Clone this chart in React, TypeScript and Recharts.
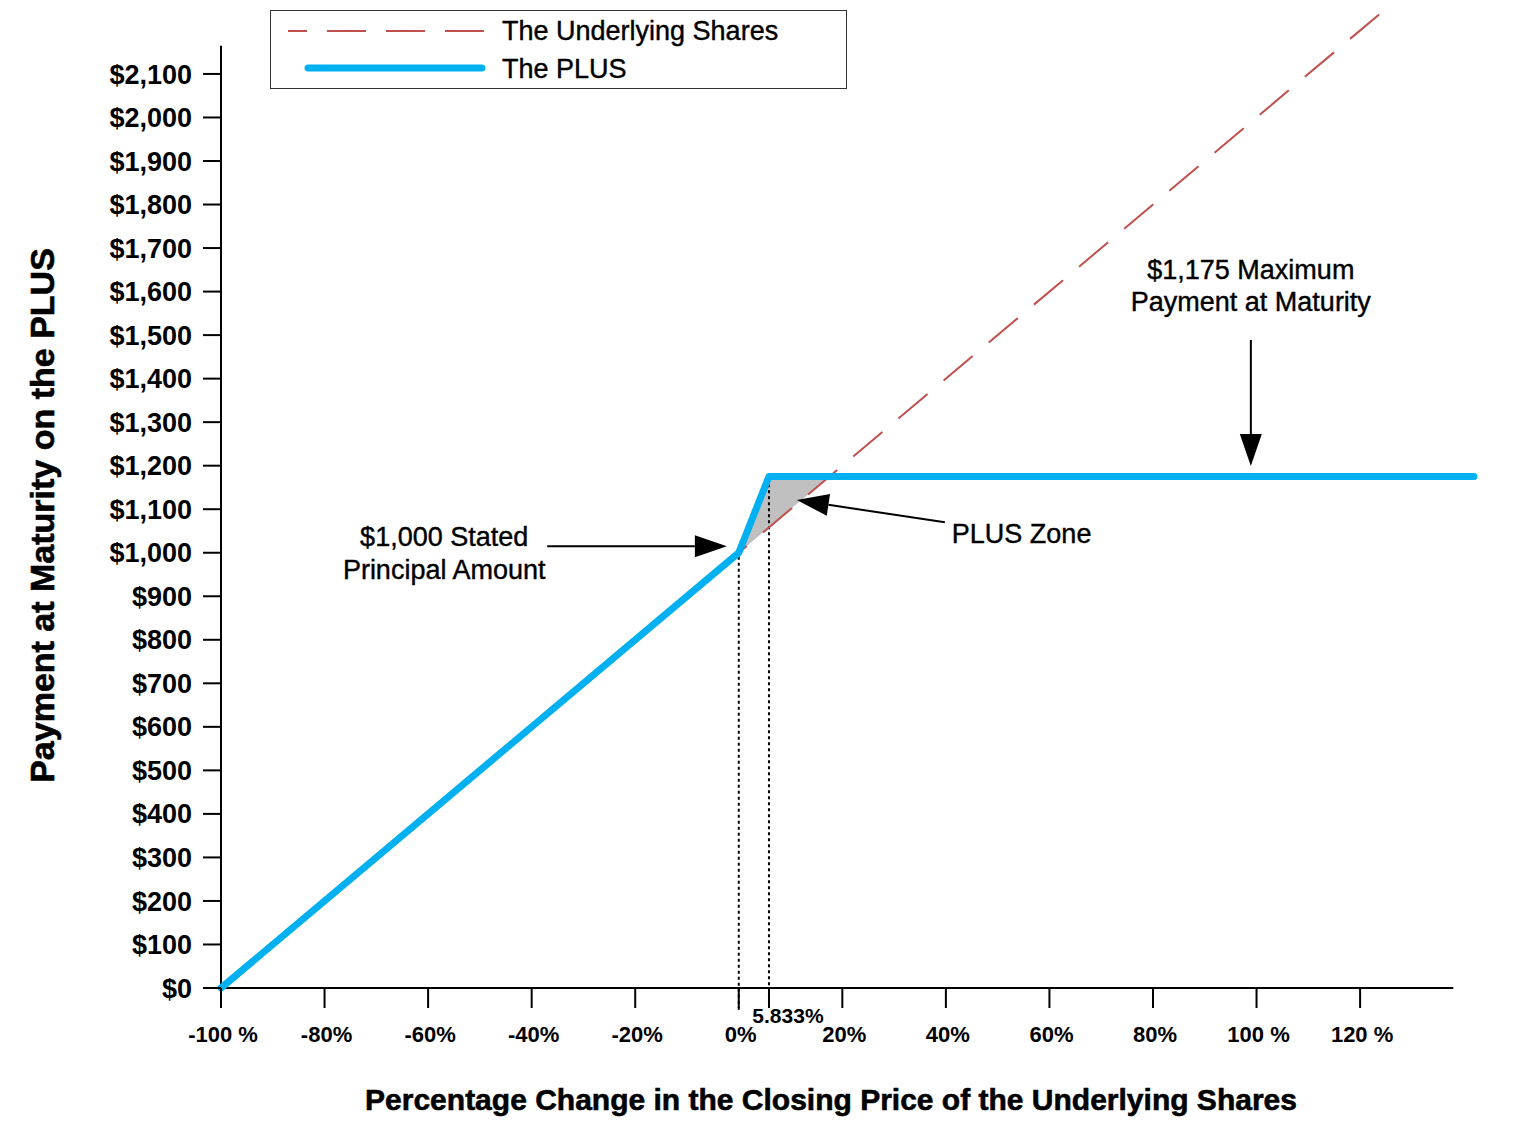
import {
  Area,
  ComposedChart,
  Label,
  Legend,
  Line,
  ReferenceLine,
  XAxis,
  YAxis,
} from "recharts";

const FONT = '"Liberation Sans", Arial, sans-serif';
const RED = "#C0504D";
const BLUE = "#00B0F0";

// payoff data
const sharesX = [-100, 124];
const sharesY = [0, 2240];
const plusX = [-100, 0, 5.833, 142];
const plusY = [0, 1000, 1175, 1175];
const zoneX = [0, 5.833, 17.5];
const zoneLow = [1000, 1058.33, 1175];
const zoneHigh = [1000, 1175, 1175];

const seriesNames = ["The Underlying Shares", "The PLUS"];

const yTicks = [
  0, 100, 200, 300, 400, 500, 600, 700, 800, 900, 1000, 1100, 1200, 1300, 1400,
  1500, 1600, 1700, 1800, 1900, 2000, 2100,
];
const xTicks = [-100, -80, -60, -40, -20, 0, 20, 40, 60, 80, 100, 120];
const xTickLabels = [
  "-100 %", "-80%", "-60%", "-40%", "-20%", "0%", "20%", "40%", "60%", "80%", "100 %", "120 %",
];
const zoneTick = 5.833;
const zoneTickLabel = "5.833%";

const principal = 1000;
const maxPayment = 1175;

const sharesData = sharesX.map((x, i) => ({ x, shares: sharesY[i] }));
const plusData = plusX.map((x, i) => ({ x, plus: plusY[i] }));
const zoneData = zoneX.map((x, i) => ({ x, zone: [zoneLow[i], zoneHigh[i]] }));

const noteText = { fontSize: 27, fontFamily: FONT, fill: "#000", stroke: "#000", strokeWidth: 0.4 };

function XTick(props: any) {
  const { x, y, payload } = props;
  const v = payload.value;
  if (v === zoneTick) {
    return (
      <text x={x + 19} y={y + 15} textAnchor="middle" fontSize={21} fontWeight={700} fontFamily={FONT} fill="#000">
        {zoneTickLabel}
      </text>
    );
  }
  const idx = xTicks.indexOf(v);
  return (
    <text x={x + 2} y={y + 34} textAnchor="middle" fontSize={22} fontWeight={700} fontFamily={FONT} fill="#000">
      {xTickLabels[idx]}
    </text>
  );
}

type ArrowProps = {
  x1?: number;
  y1?: number;
  x2?: number;
  y2?: number;
  lines: string[];
  dx: number;
  dy: number[];
  anchor: "start" | "middle" | "end";
};

function Arrow({ x1 = 0, y1 = 0, x2 = 0, y2 = 0, lines, dx, dy, anchor }: ArrowProps) {
  const a = Math.atan2(y2 - y1, x2 - x1);
  const c = Math.cos(a);
  const s = Math.sin(a);
  const L = 32;
  const W = 11;
  const bx = x2 - L * c;
  const by = y2 - L * s;
  const pts = `${x2},${y2} ${bx - W * s},${by + W * c} ${bx + W * s},${by - W * c}`;
  return (
    <g>
      <line x1={x1} y1={y1} x2={bx} y2={by} stroke="#000" strokeWidth={2} />
      <polygon points={pts} fill="#000" />
      {lines.map((t, i) => (
        <text key={t} x={x1 + dx} y={y1 + dy[i]} textAnchor={anchor} {...noteText}>
          {t}
        </text>
      ))}
    </g>
  );
}

function LegendBox() {
  return (
    <svg width={578} height={80} style={{ display: "block" }}>
      <rect x={0.5} y={0.5} width={576} height={78} fill="#fff" stroke="#333" />
      <line x1={18} x2={214} y1={21} y2={21} stroke={RED} strokeWidth={2} strokeDasharray="39 20" strokeDashoffset={20} />
      <line x1={38} x2={212} y1={58} y2={58} stroke={BLUE} strokeWidth={7} strokeLinecap="round" />
      <text x={232} y={30} {...noteText}>
        {seriesNames[0]}
      </text>
      <text x={232} y={68} {...noteText}>
        {seriesNames[1]}
      </text>
    </svg>
  );
}

export default function App() {
  return (
    <div style={{ position: "absolute", left: 0, top: 0, width: 1533, height: 1148, background: "#fff" }}>
      <ComposedChart width={1533} height={1148} margin={{ top: 3, right: 59, bottom: 0, left: 0 }}>
        <XAxis
          type="number"
          dataKey="x"
          domain={[-100, 142]}
          ticks={[...xTicks, zoneTick]}
          interval={0}
          height={160}
          tickSize={20}
          tickMargin={0}
          axisLine={false}
          tickLine={{ stroke: "#000", strokeWidth: 2 }}
          tick={<XTick />}
        >
          <Label
            content={(p: any) => (
              <text
                x={p.viewBox.x + 610}
                y={p.viewBox.y + 122}
                textAnchor="middle"
                fontSize={30}
                fontWeight={900}
                fontFamily={FONT}
                fill="#000"
                stroke="#000"
                strokeWidth={0.6}
              >
                Percentage Change in the Closing Price of the Underlying Shares
              </text>
            )}
          />
        </XAxis>
        <YAxis
          type="number"
          domain={[0, 2263]}
          ticks={yTicks}
          interval={0}
          width={221}
          tickSize={18}
          tickMargin={11}
          axisLine={false}
          tickLine={{ stroke: "#000", strokeWidth: 2 }}
          tick={{ fill: "#000", fontSize: 27, fontWeight: 700, fontFamily: FONT }}
          tickFormatter={(v: number) => `$${v.toLocaleString("en-US")}`}
        >
          <Label
            content={(p: any) => (
              <text
                transform={`translate(${p.viewBox.x + 42}, ${p.viewBox.y + p.viewBox.height / 2 + 20}) rotate(-90)`}
                textAnchor="middle"
                dominantBaseline="central"
                fontSize={34}
                fontWeight={900}
                fontFamily={FONT}
                fill="#000"
                stroke="#000"
                strokeWidth={0.6}
              >
                Payment at Maturity on the PLUS
              </text>
            )}
          />
        </YAxis>
        <Legend
          layout="horizontal"
          verticalAlign="middle"
          align="center"
          wrapperStyle={{ left: 270, top: 10, width: 578, height: 80 }}
          content={() => <LegendBox />}
        />

        <ReferenceLine
          segment={[{ x: -100, y: 0 }, { x: -100, y: 2165 }]}
          stroke="#000"
          strokeWidth={2}
          ifOverflow="visible"
        />
        <ReferenceLine
          segment={[{ x: -101, y: 0 }, { x: 138, y: 0 }]}
          stroke="#000"
          strokeWidth={2}
          ifOverflow="visible"
        />

        <Area
          data={zoneData}
          dataKey="zone"
          type="linear"
          stroke="none"
          fill="#C0C0C0"
          fillOpacity={1}
          legendType="none"
          isAnimationActive={false}
        />
        <ReferenceLine
          segment={[{ x: 0, y: -50 }, { x: 0, y: principal }]}
          stroke="#000"
          strokeWidth={2}
          strokeDasharray="3 3"
          ifOverflow="visible"
        />
        <ReferenceLine
          segment={[{ x: zoneTick, y: -35 }, { x: zoneTick, y: maxPayment }]}
          stroke="#000"
          strokeWidth={2}
          strokeDasharray="3 3"
          ifOverflow="visible"
        />
        <Line
          data={sharesData}
          dataKey="shares"
          name={seriesNames[0]}
          type="linear"
          stroke={RED}
          strokeWidth={2}
          strokeDasharray="38 21"
          dot={false}
          activeDot={false}
          isAnimationActive={false}
        />
        <Line
          data={plusData}
          dataKey="plus"
          name={seriesNames[1]}
          type="linear"
          stroke={BLUE}
          strokeWidth={7}
          strokeLinejoin="round"
          strokeLinecap="round"
          dot={false}
          activeDot={false}
          isAnimationActive={false}
        />

        <ReferenceLine
          segment={[{ x: -37, y: 1015 }, { x: -2.3, y: 1015 }]}
          ifOverflow="visible"
          shape={(p: any) => (
            <Arrow {...p} lines={["$1,000 Stated", "Principal Amount"]} dx={-103} dy={[0, 33]} anchor="middle" />
          )}
        />
        <ReferenceLine
          segment={[{ x: 39.8, y: 1070 }, { x: 11.2, y: 1121 }]}
          ifOverflow="visible"
          shape={(p: any) => <Arrow {...p} lines={["PLUS Zone"]} dx={7} dy={[21]} anchor="start" />}
        />
        <ReferenceLine
          segment={[{ x: 98.9, y: 1489 }, { x: 98.9, y: 1199 }]}
          ifOverflow="visible"
          shape={(p: any) => (
            <Arrow
              {...p}
              lines={["$1,175 Maximum", "Payment at Maturity"]}
              dx={0}
              dy={[-61, -29]}
              anchor="middle"
            />
          )}
        />
      </ComposedChart>
    </div>
  );
}
